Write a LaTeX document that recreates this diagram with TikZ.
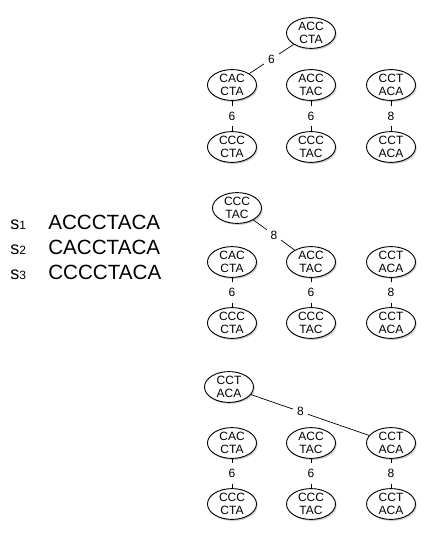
\documentclass[tikz,border=0pt]{standalone}
\usepackage{fontspec}
\setmainfont{Liberation Sans}
\usetikzlibrary{shapes.geometric,shadows}

\begin{document}
\begin{tikzpicture}[x=1pt,y=-1pt,
   every node/.style={font=\fontsize{12}{13.3}\selectfont},
   seqnode/.style={draw,ellipse,fill=white,line width=0.9pt,
     minimum width=49pt,minimum height=28pt,inner sep=0pt,align=center,
     drop shadow={shadow xshift=1.2pt,shadow yshift=-1.5pt,opacity=0.4}},
   wt/.style={fill=white,inner xsep=4pt,inner ysep=6pt},
   every path/.style={line width=0.7pt}]
\useasboundingbox (0,0) rectangle (436,545);

% the three sequences
\node[anchor=base west,inner sep=0pt] (s1) at (10,229) {{\fontsize{18}{18}\selectfont s}{\fontsize{12}{12}\selectfont 1}};
\node[anchor=base west,inner sep=0pt] (s2) at (10,254) {{\fontsize{18}{18}\selectfont s}{\fontsize{12}{12}\selectfont 2}};
\node[anchor=base west,inner sep=0pt] (s3) at (10,279) {{\fontsize{18}{18}\selectfont s}{\fontsize{12}{12}\selectfont 3}};
\node[anchor=base west,inner sep=0pt,font=\fontsize{20.6}{20}\selectfont] (q1) at (48,229) {ACCCTACA};
\node[anchor=base west,inner sep=0pt,font=\fontsize{20.6}{20}\selectfont] (q2) at (48,254) {CACCTACA};
\node[anchor=base west,inner sep=0pt,font=\fontsize{20.6}{20}\selectfont] (q3) at (48,279) {CCCCTACA};

% first panel
\node[seqnode] (t1) at (311,33) {ACC\\CTA};
\node[seqnode] (a1) at (232,85) {CAC\\CTA};
\node[seqnode] (b1) at (311,85) {ACC\\TAC};
\node[seqnode] (c1) at (391,85) {CCT\\ACA};
\node[seqnode] (d1) at (232,147) {CCC\\CTA};
\node[seqnode] (e1) at (311,147) {CCC\\TAC};
\node[seqnode] (f1) at (391,147) {CCT\\ACA};
\draw (t1) -- node[wt] {6} (a1);
\draw (a1) -- node[wt] {6} (d1);
\draw (b1) -- node[wt] {6} (e1);
\draw (c1) -- node[wt] {8} (f1);

% second panel
\node[seqnode] (t2) at (237,208) {CCC\\TAC};
\node[seqnode] (a2) at (232,262) {CAC\\CTA};
\node[seqnode] (b2) at (311,262) {ACC\\TAC};
\node[seqnode] (c2) at (391,262) {CCT\\ACA};
\node[seqnode] (d2) at (232,323) {CCC\\CTA};
\node[seqnode] (e2) at (311,323) {CCC\\TAC};
\node[seqnode] (f2) at (391,323) {CCT\\ACA};
\draw (t2) -- node[wt] {8} (b2);
\draw (a2) -- node[wt] {6} (d2);
\draw (b2) -- node[wt] {6} (e2);
\draw (c2) -- node[wt] {8} (f2);

% third panel
\node[seqnode] (t3) at (229,387) {CCT\\ACA};
\node[seqnode] (a3) at (232,443) {CAC\\CTA};
\node[seqnode] (b3) at (311,443) {ACC\\TAC};
\node[seqnode] (c3) at (391,443) {CCT\\ACA};
\node[seqnode] (d3) at (232,504) {CCC\\CTA};
\node[seqnode] (e3) at (311,504) {CCC\\TAC};
\node[seqnode] (f3) at (391,504) {CCT\\ACA};
\draw (t3) -- node[wt,pos=0.42] {8} (c3);
\draw (a3) -- node[wt] {6} (d3);
\draw (b3) -- node[wt] {6} (e3);
\draw (c3) -- node[wt] {8} (f3);

\end{tikzpicture}
\end{document}
